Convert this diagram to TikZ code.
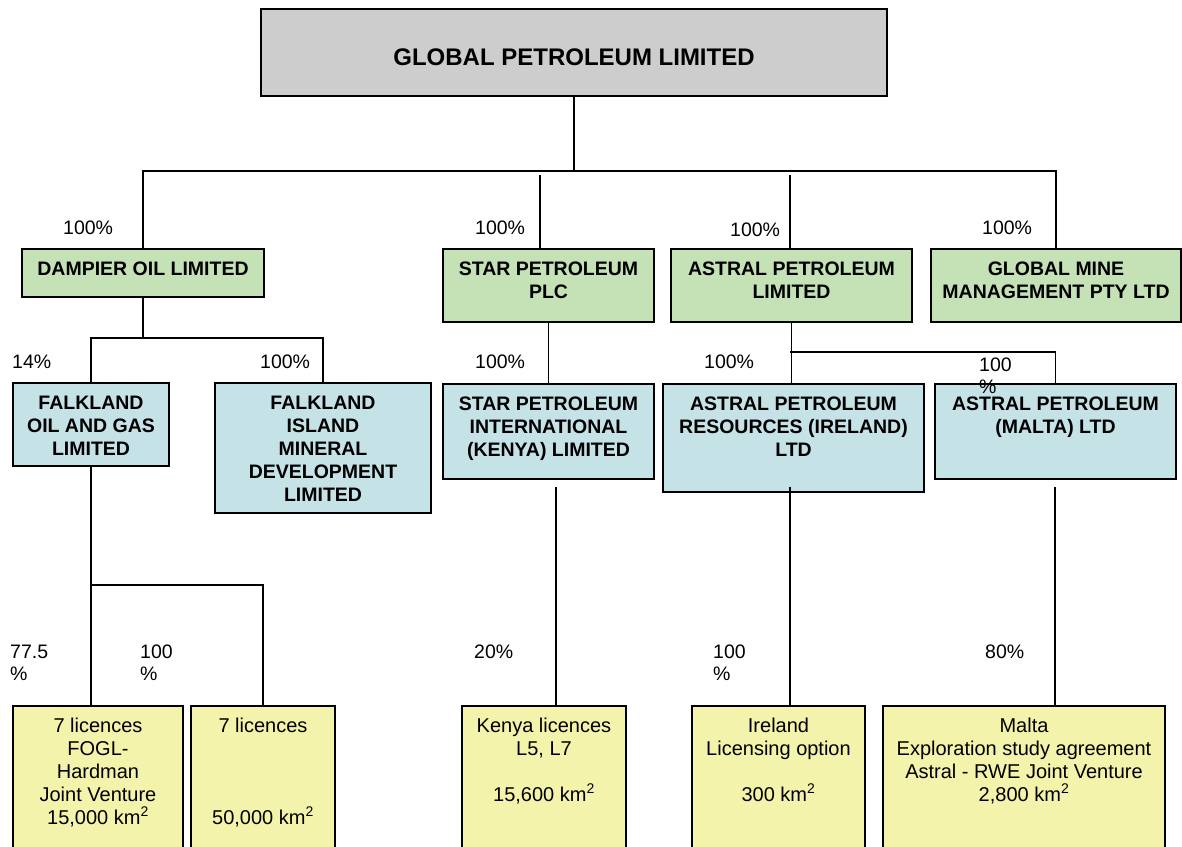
\documentclass[tikz,border=0pt]{standalone}
\usepackage{fontspec}
\setmainfont{Liberation Sans}
\usetikzlibrary{positioning}

\definecolor{topgray}{RGB}{204,205,204}
\definecolor{holdgreen}{RGB}{197,225,182}
\definecolor{subblue}{RGB}{197,226,231}
\definecolor{licyellow}{RGB}{243,243,171}

% box text: width, height, first baseline, text
\newcommand{\boxtext}[4]{\parbox[t][#2pt][t]{#1pt}{\centering\rule{0pt}{#3pt}#4}}
\newcommand{\sqkm}{km\textsuperscript{2}}

\tikzset{
  cbox/.style={draw, line width=2pt, inner sep=0pt, anchor=north west},
  hold/.style={cbox, fill=holdgreen, font=\fontsize{19.5}{23}\selectfont\bfseries},
  sub/.style={cbox, fill=subblue, font=\fontsize{19.5}{23}\selectfont\bfseries},
  lic/.style={cbox, fill=licyellow, font=\fontsize{20}{23}\selectfont},
  pct/.style={anchor=west, inner sep=0pt, align=left, font=\fontsize{19.5}{22}\selectfont},
  link/.style={line width=1.5pt},
  trunk/.style={line width=2.5pt}
}

\begin{document}
\begin{tikzpicture}[x=1pt, y=-1pt]
\useasboundingbox (0,0) rectangle (1182,846);
% Boxes
\node[cbox, fill=topgray, font=\fontsize{24}{28}\selectfont\bfseries] (gpl) at (260,8)
  {\boxtext{626}{87}{56}{GLOBAL PETROLEUM LIMITED}};
\node[hold] (dol) at (21,248) {\boxtext{242}{48}{26}{DAMPIER OIL LIMITED}};
\node[hold] (spp) at (442,248) {\boxtext{211}{73}{26}{STAR PETROLEUM\\PLC}};
\node[hold] (apl) at (670,248) {\boxtext{241}{73}{26}{ASTRAL PETROLEUM\\LIMITED}};
\node[hold] (gmm) at (930,248) {\boxtext{250}{73}{26}{GLOBAL MINE\\MANAGEMENT PTY LTD}};
\node[sub] (fog) at (12,382) {\boxtext{156}{83}{26}{FALKLAND\\OIL AND GAS\\LIMITED}};
\node[sub] (fim) at (214,382) {\boxtext{216}{130}{26}{FALKLAND\\ISLAND\\MINERAL\\DEVELOPMENT\\LIMITED}};
\node[sub] (spi) at (442,383) {\boxtext{211}{95}{26}{STAR PETROLEUM\\INTERNATIONAL\\(KENYA) LIMITED}};
\node[sub] (apr) at (662,383) {\boxtext{261}{108}{26}{ASTRAL PETROLEUM\\RESOURCES (IRELAND)\\LTD}};
\node[sub] (apm) at (934,383) {\boxtext{241}{95}{26}{ASTRAL PETROLEUM\\(MALTA) LTD}};
\node[lic] (lic1) at (12,705) {\boxtext{170}{150}{26}{7 licences\\FOGL-\\Hardman\\Joint Venture\\15,000 \sqkm}};
\node[lic] (lic2) at (190,705) {\boxtext{144}{150}{26}{7 licences\\[69pt]50,000 \sqkm}};
\node[lic] (ken) at (461,705) {\boxtext{164}{150}{26}{Kenya licences\\L5, L7\\[23pt]15,600 \sqkm}};
\node[lic] (ire) at (691,705) {\boxtext{173}{150}{26}{Ireland\\Licensing option\\[23pt]300 \sqkm}};
\node[lic] (mal) at (882,705) {\boxtext{282}{150}{26}{Malta\\Exploration study agreement\\Astral - RWE Joint Venture\\2,800 \sqkm}};
% Lines
\coordinate (bus) at (572,171);
\coordinate (sptop) at (540,175);
\coordinate (aptop) at (790,175);
\coordinate (dbus) at (143,338);
\coordinate (abus) at (790,352);
\coordinate (fbus) at (90,585);
\coordinate (kenup) at (556,487);
\coordinate (ireup) at (790,487);
\coordinate (malup) at (1055,487);
\draw[trunk] (gpl.south) -- (gpl.south |- bus);
\draw[link] (dol.north) |- (bus) -| (gmm.north);
\draw[link] (sptop) -- (sptop |- spp.north);
\draw[link] (aptop) -- (aptop |- apl.north);
\draw[trunk] (dol.south) -- (dol.south |- dbus);
\draw[link] (fog.north) |- (dbus) -| (fim.north);
\draw[link] (spp.south) -- (spi.north);
\draw[link] (apl.south) -- (apl.south |- apr.north);
\draw[link] (abus) -| (apm.north);
\draw[link] (fog.south) -- (fog.south |- lic1.north);
\draw[link] (fbus) -| (lic2.north);
\draw[link] (kenup) -- (kenup |- ken.north);
\draw[link] (ireup) -- (ireup |- ire.north);
\draw[link] (malup) -- (malup |- mal.north);
% Shares
\node[pct] (pdol) at (63,228) {100\%};
\node[pct] (pspp) at (475,228) {100\%};
\node[pct] (papl) at (730,230) {100\%};
\node[pct] (pgmm) at (982,228) {100\%};
\node[pct] (pfog) at (12,362) {14\%};
\node[pct] (pfim) at (260,362) {100\%};
\node[pct] (pspi) at (475,362) {100\%};
\node[pct] (papr) at (704,362) {100\%};
\node[pct] (papm) at (979,376) {100\\\%};
\node[pct] (plic1) at (10,663) {77.5\\\%};
\node[pct] (plic2) at (140,663) {100\\\%};
\node[pct] (pken) at (474,652) {20\%};
\node[pct] (pire) at (713,663) {100\\\%};
\node[pct] (pmal) at (985,652) {80\%};
\end{tikzpicture}
\end{document}
